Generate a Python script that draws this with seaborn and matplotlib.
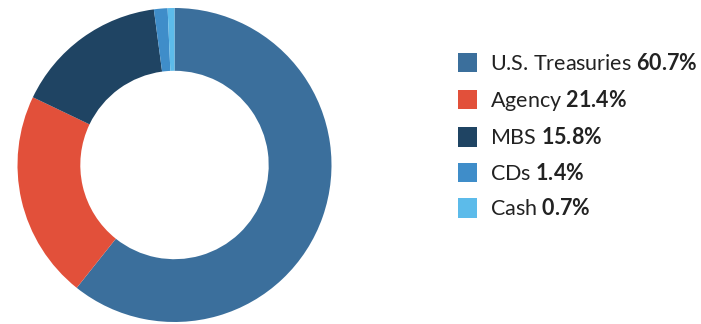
import matplotlib
matplotlib.use("Agg")
import matplotlib.pyplot as plt
import seaborn as sns
from matplotlib.patches import Patch

categories = ["U.S. Treasuries", "Agency", "MBS", "CDs", "Cash"]
values = [60.7, 21.4, 15.8, 1.4, 0.7]
colors = ["#3b6f9c", "#e2503a", "#1f4463", "#3f8dc9", "#5cbbea"]

sns.set_theme(style="white")
plt.rcParams['font.family'] = ['Lato', 'DejaVu Sans']
plt.rcParams['mathtext.fontset'] = 'custom'
plt.rcParams['mathtext.rm'] = 'Lato'
plt.rcParams['mathtext.bf'] = 'Lato:bold'

fig = plt.figure(figsize=(7.01, 3.24), dpi=100)
ax = fig.add_axes([17.5/701, 2/324, 314/701, 314/324])
ax.pie(values, colors=colors, startangle=90, counterclock=False,
       wedgeprops=dict(width=0.40, edgecolor='none'), radius=1.0)
ax.set_aspect('equal')
ax.set_xlim(-1, 1)
ax.set_ylim(-1, 1)
ax.axis('off')

handles = [Patch(facecolor=c, edgecolor='none') for c in colors]
labels = [f"{n} $\\mathbf{{{v}\\%}}$" for n, v in zip(categories, values)]
fig.legend(handles, labels, loc='upper left', bbox_to_anchor=(449/701, 1 - 44/324),
           frameon=False, fontsize=15.5, handlelength=0.9, handleheight=1.0,
           handletextpad=0.6, labelspacing=0.67, borderaxespad=0, labelcolor='#222222')

fig.savefig("out.png", dpi=100)
